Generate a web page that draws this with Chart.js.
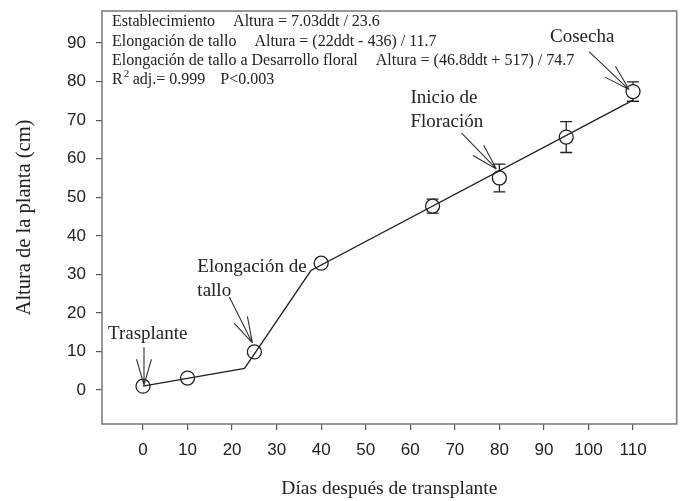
<!DOCTYPE html>
<html>
<head>
<meta charset="utf-8">
<script src="https://cdn.jsdelivr.net/npm/chart.js@4"></script>
<style>
  html, body { margin: 0; padding: 0; background: #fff; }
  #wrap { width: 685px; height: 501px; }
</style>
</head>
<body>
<div id="wrap"><canvas id="growthChart" width="685" height="501"></canvas></div>
<script>
// measured plant height (mean and sd) per sampling day
const days = [0, 10, 25, 40, 65, 80, 95, 110];
const heights = [1.0, 3.1, 9.9, 32.9, 47.7, 55.0, 65.6, 77.4];
const heightSd = [0.3, 0.3, 0.5, 0.5, 1.8, 3.6, 4.0, 2.5];

// segmented fit line (knots)
const fitDays = [0, 22.8, 37.7, 110];
const fitHeights = [1.0, 5.6, 31.0, 75.2];

const xTicks = [0, 10, 20, 30, 40, 50, 60, 70, 80, 90, 100, 110];
const yTicks = [0, 10, 20, 30, 40, 50, 60, 70, 80, 90];

// phenological stages pointed at with arrows
const stageNames = [['Trasplante'], ['Elongación de', 'tallo'], ['Inicio de', 'Floración'], ['Cosecha']];
const stageDayIndex = [0, 2, 5, 7];

const equations = [
    ['Establecimiento', 'Altura = 7.03ddt / 23.6'],
    ['Elongación de tallo', 'Altura = (22ddt - 436) / 11.7'],
    ['Elongación de tallo a Desarrollo floral', 'Altura = (46.8ddt + 517) / 74.7']
];

const ink = '#222';
const serif = '"Liberation Serif", "Times New Roman", serif';
const sans = '"Liberation Sans", Arial, sans-serif';

function drawArrow(ctx, sx, sy, tx, ty) {
    let ang = Math.atan2(ty - sy, tx - sx);
    let len = 27, spread = 16 * Math.PI / 180;
    ctx.beginPath();
    ctx.moveTo(sx, sy);
    ctx.lineTo(tx, ty);
    ctx.moveTo(tx - len * Math.cos(ang - spread), ty - len * Math.sin(ang - spread));
    ctx.lineTo(tx, ty);
    ctx.moveTo(tx - len * Math.cos(ang + spread), ty - len * Math.sin(ang + spread));
    ctx.lineTo(tx, ty);
    ctx.stroke();
}

const framePlugin = {
    id: 'frame',
    beforeDatasetsDraw(chart) {
        let ctx = chart.ctx, xs = chart.scales.x, ys = chart.scales.y;
        ctx.save();
        ctx.strokeStyle = ink;
        ctx.lineWidth = 1.3;
        days.forEach((d, i) => {
            let px = xs.getPixelForValue(d);
            let top = ys.getPixelForValue(heights[i] + heightSd[i]);
            let bot = ys.getPixelForValue(heights[i] - heightSd[i]);
            ctx.beginPath();
            ctx.moveTo(px, top); ctx.lineTo(px, bot);
            ctx.moveTo(px - 6, top); ctx.lineTo(px + 6, top);
            ctx.moveTo(px - 6, bot); ctx.lineTo(px + 6, bot);
            ctx.stroke();
        });
        ctx.restore();
    },
    afterDraw(chart) {
        let ctx = chart.ctx, area = chart.chartArea;
        let xs = chart.scales.x, ys = chart.scales.y;
        ctx.save();
        // frame
        ctx.strokeStyle = '#808080';
        ctx.lineWidth = 1.6;
        ctx.strokeRect(area.left, area.top, area.right - area.left, area.bottom - area.top);

        // equations text
        ctx.fillStyle = ink;
        ctx.textBaseline = 'middle';
        ctx.textAlign = 'left';
        ctx.font = '16px ' + serif;
        let ex = area.left + 10, ey = area.top + 11, lh = 19.4;
        equations.forEach((eq, i) => {
            let y = ey + i * lh;
            ctx.fillText(eq[0], ex, y);
            ctx.fillText(eq[1], ex + ctx.measureText(eq[0]).width + 18, y);
        });
        let ry = ey + 3 * lh;
        ctx.fillText('R', ex, ry);
        let rx = ex + ctx.measureText('R').width;
        ctx.font = '11px ' + serif;
        ctx.fillText('2', rx + 1, ry - 6);
        ctx.font = '16px ' + serif;
        ctx.fillText(' adj.= 0.999', rx + 6, ry);
        rx += 6 + ctx.measureText(' adj.= 0.999').width;
        ctx.fillText('P<0.003', rx + 15, ry);

        // stage labels and arrows
        let textOff = [[-35, -52], [-57, -85], [-89, -80], [-83, -55]];
        let arrowFrom = [[1, -39], [-25, -55], [-38, -45], [-44, -40]];
        let arrowTo = [[1, -1], [-2, -9], [-3, -9], [-4, -2]];
        ctx.font = '19px ' + serif;
        ctx.strokeStyle = '#333';
        ctx.lineWidth = 1.1;
        stageNames.forEach((lines, s) => {
            let i = stageDayIndex[s];
            let px = xs.getPixelForValue(days[i]);
            let py = ys.getPixelForValue(heights[i]);
            lines.forEach((t, k) => {
                ctx.fillText(t, px + textOff[s][0], py + textOff[s][1] + k * 24);
            });
            drawArrow(ctx, px + arrowFrom[s][0], py + arrowFrom[s][1], px + arrowTo[s][0], py + arrowTo[s][1]);
        });
        ctx.restore();
    }
};

let canvas = document.getElementById('growthChart').getContext('2d');
let growthChart = new Chart(canvas, {
    type: 'scatter',
    data: {
        datasets: [{
            label: 'Ajuste',
            data: fitDays.map((d, i) => ({x: d, y: fitHeights[i]})),
            showLine: true,
            borderColor: ink,
            borderWidth: 1.3,
            pointRadius: 0,
            tension: 0,
            order: 0
        }, {
            label: 'Altura',
            data: days.map((d, i) => ({x: d, y: heights[i]})),
            pointRadius: 7,
            pointBackgroundColor: '#fff',
            pointBorderColor: ink,
            pointBorderWidth: 1.3,
            order: 1
        }]
    },
    options: {
        responsive: false,
        devicePixelRatio: 1,
        animation: false,
        events: [],
        layout: { padding: { top: 11, right: 2, left: 0, bottom: 0 } },
        plugins: { legend: { display: false }, tooltip: { enabled: false } },
        scales: {
            x: {
                type: 'linear',
                min: -9.2,
                max: 119.8,
                afterBuildTicks: scale => { scale.ticks = xTicks.map(v => ({value: v})); },
                afterFit: scale => { scale.height = 77; scale.paddingLeft = 0; scale.paddingRight = 0; },
                grid: { drawOnChartArea: false, drawTicks: true, tickLength: 6, color: '#555', lineWidth: 1.2 },
                border: { display: false },
                ticks: { autoSkip: false, maxRotation: 0, padding: 10, color: ink, font: { family: sans, size: 17 } },
                title: { display: true, text: 'Días después de transplante', color: ink, padding: { top: 0, bottom: 0 }, font: { family: serif, size: 19.5 } }
            },
            y: {
                min: -8.8,
                max: 98.3,
                afterBuildTicks: scale => { scale.ticks = yTicks.map(v => ({value: v})); },
                afterFit: scale => { scale.width = 102; scale.paddingTop = 0; scale.paddingBottom = 0; },
                grid: { drawOnChartArea: false, drawTicks: true, tickLength: 6, color: '#555', lineWidth: 1.2 },
                border: { display: false },
                ticks: { padding: 10, color: ink, font: { family: sans, size: 17 } },
                title: { display: true, text: 'Altura de la planta (cm)', color: ink, padding: { top: 12, bottom: 0 }, font: { family: serif, size: 20.5 } }
            }
        }
    },
    plugins: [framePlugin]
});
</script>
</body>
</html>
